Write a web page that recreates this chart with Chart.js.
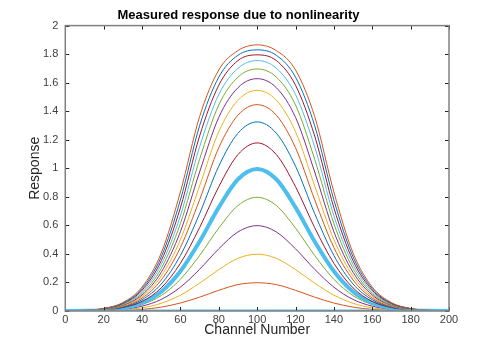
<!DOCTYPE html>
<html>
<head>
<meta charset="utf-8">
<script src="https://cdn.jsdelivr.net/npm/chart.js@4/dist/chart.umd.min.js"></script>
<style>
  html, body { margin: 0; padding: 0; background: #fff; }
  #wrap { width: 496px; height: 350px; }
</style>
</head>
<body>
<div id="wrap"><canvas id="respChart" width="496" height="350"></canvas></div>
<script>
const channels = [0, 10, 20, 30, 40, 50, 60, 70, 80, 90, 100, 110, 120, 130, 140, 150, 160, 170, 180, 190, 200];

const resp00 = [0, 0, 0, 0, 0, 0, 0, 0, 0, 0, 0, 0, 0, 0, 0, 0, 0, 0, 0, 0, 0];
const resp02 = [0, 0, 0.001, 0.004, 0.011, 0.027, 0.056, 0.097, 0.145, 0.185, 0.198, 0.185, 0.145, 0.097, 0.056, 0.027, 0.011, 0.004, 0.001, 0, 0];
const resp04 = [0, 0.001, 0.002, 0.008, 0.022, 0.054, 0.111, 0.195, 0.290, 0.369, 0.398, 0.369, 0.290, 0.195, 0.111, 0.054, 0.022, 0.008, 0.002, 0.001, 0];
const resp06 = [0, 0.001, 0.004, 0.012, 0.034, 0.081, 0.167, 0.292, 0.436, 0.554, 0.598, 0.554, 0.436, 0.292, 0.167, 0.081, 0.034, 0.012, 0.004, 0.001, 0];
const resp08 = [0, 0.001, 0.005, 0.016, 0.045, 0.108, 0.222, 0.389, 0.581, 0.739, 0.797, 0.739, 0.581, 0.389, 0.222, 0.108, 0.045, 0.016, 0.005, 0.001, 0];
const resp10 = [0, 0.002, 0.006, 0.020, 0.056, 0.135, 0.278, 0.487, 0.726, 0.923, 0.995, 0.923, 0.726, 0.487, 0.278, 0.135, 0.056, 0.020, 0.006, 0.002, 0];
const resp12 = [0, 0.002, 0.007, 0.024, 0.067, 0.162, 0.334, 0.584, 0.871, 1.096, 1.178, 1.096, 0.871, 0.584, 0.334, 0.162, 0.067, 0.024, 0.007, 0.002, 0];
const resp14 = [0.001, 0.002, 0.008, 0.028, 0.079, 0.189, 0.389, 0.682, 1.015, 1.246, 1.325, 1.246, 1.015, 0.682, 0.389, 0.189, 0.079, 0.028, 0.008, 0.002, 0.001];
const resp16 = [0.001, 0.002, 0.010, 0.032, 0.090, 0.217, 0.445, 0.779, 1.144, 1.372, 1.446, 1.372, 1.144, 0.779, 0.445, 0.217, 0.090, 0.032, 0.010, 0.002, 0.001];
const resp18 = [0.001, 0.003, 0.011, 0.036, 0.101, 0.244, 0.500, 0.876, 1.257, 1.477, 1.546, 1.477, 1.257, 0.876, 0.500, 0.244, 0.101, 0.036, 0.011, 0.003, 0.001];
const resp20 = [0.001, 0.003, 0.012, 0.040, 0.112, 0.271, 0.556, 0.974, 1.357, 1.565, 1.628, 1.565, 1.357, 0.974, 0.556, 0.271, 0.112, 0.040, 0.012, 0.003, 0.001];
const resp22 = [0.001, 0.003, 0.013, 0.044, 0.123, 0.298, 0.612, 1.063, 1.444, 1.639, 1.696, 1.639, 1.444, 1.063, 0.612, 0.298, 0.123, 0.044, 0.013, 0.003, 0.001];
const resp24 = [0.001, 0.004, 0.014, 0.048, 0.135, 0.325, 0.667, 1.150, 1.517, 1.701, 1.755, 1.701, 1.517, 1.150, 0.667, 0.325, 0.135, 0.048, 0.014, 0.004, 0.001];
const resp26 = [0.001, 0.004, 0.016, 0.052, 0.146, 0.352, 0.723, 1.226, 1.582, 1.755, 1.795, 1.755, 1.582, 1.226, 0.723, 0.352, 0.146, 0.052, 0.016, 0.004, 0.001];
const resp28 = [0.001, 0.004, 0.017, 0.055, 0.157, 0.379, 0.778, 1.298, 1.639, 1.792, 1.830, 1.792, 1.639, 1.298, 0.778, 0.379, 0.157, 0.055, 0.017, 0.004, 0.001];
const resp30 = [0.001, 0.005, 0.018, 0.059, 0.168, 0.406, 0.834, 1.362, 1.689, 1.825, 1.865, 1.825, 1.689, 1.362, 0.834, 0.406, 0.168, 0.059, 0.018, 0.005, 0.001];

const seriesList = [resp00, resp02, resp04, resp06, resp08, resp10, resp12, resp14,
                    resp16, resp18, resp20, resp22, resp24, resp26, resp28, resp30];

// axis ticks
const xTicks = [0, 20, 40, 60, 80, 100, 120, 140, 160, 180, 200];
const yTicks = [0, 0.2, 0.4, 0.6, 0.8, 1, 1.2, 1.4, 1.6, 1.8, 2];

// MATLAB default colour order
const colorOrder = ['#0072BD', '#D95319', '#EDB120', '#7E2F8E', '#77AC30', '#4DBEEE', '#A2142F'];
const FONT = "'Liberation Sans', Arial, Helvetica, sans-serif";

const datasets = seriesList.map((vals, i) => {
    let color = colorOrder[i % colorOrder.length];
    let width = 1;
    if (i === 0) { color = '#4DBEEE'; width = 3; }   // zero line drawn thick
    if (i === 5) { width = 4; }                      // unit response highlighted
    return {
        label: 'resp' + i,
        data: vals.map((v, k) => ({ x: channels[k], y: v })),
        borderColor: color,
        borderWidth: width,
        pointRadius: 0,
        fill: false,
        cubicInterpolationMode: 'monotone',
        order: i === 0 ? -1 : 20 - i
    };
});

// box around the plot with MATLAB style inward ticks
const boxTicks = {
    id: 'boxTicks',
    afterDraw(chart) {
        const { ctx, chartArea: a, scales } = chart;
        ctx.save();
        ctx.strokeStyle = '#262626';
        ctx.lineWidth = 1;
        const len = 4;
        ctx.beginPath();
        xTicks.forEach(v => {
            const px = Math.round(scales.x.getPixelForValue(v)) + 0.5;
            ctx.moveTo(px, a.bottom); ctx.lineTo(px, a.bottom - len);
            ctx.moveTo(px, a.top); ctx.lineTo(px, a.top + len);
        });
        yTicks.forEach(v => {
            const py = Math.round(scales.y.getPixelForValue(v)) + 0.5;
            ctx.moveTo(a.left, py); ctx.lineTo(a.left + len, py);
            ctx.moveTo(a.right, py); ctx.lineTo(a.right - len, py);
        });
        ctx.stroke();
        ctx.strokeStyle = '#808080';
        ctx.lineWidth = 1.5;
        ctx.strokeRect(a.left, a.top, a.right - a.left, a.bottom - a.top);
        ctx.restore();
    }
};

const tickLabel = (v) => String(Number(v.toFixed(1)));

const ctx = document.getElementById('respChart').getContext('2d');
const respChart = new Chart(ctx, {
    type: 'line',
    data: { datasets: datasets },
    plugins: [boxTicks],
    options: {
        responsive: false,
        animation: false,
        layout: { padding: { left: 28, right: 47, top: 0, bottom: 13 } },
        plugins: {
            legend: { display: false },
            tooltip: { enabled: false },
            title: {
                display: true,
                text: 'Measured response due to nonlinearity',
                color: '#000',
                font: { family: FONT, size: 13, weight: 'bold', lineHeight: 1.2 },
                padding: { top: 8, bottom: 2 }
            }
        },
        scales: {
            x: {
                type: 'linear',
                min: 0,
                max: 200,
                afterBuildTicks: (s) => { s.ticks = xTicks.map(v => ({ value: v })); },
                grid: { display: false, drawTicks: false },
                border: { display: false },
                ticks: { color: '#404040', font: { family: FONT, size: 11, lineHeight: 1 }, padding: 3,
                         maxRotation: 0, callback: tickLabel },
                title: { display: true, text: 'Channel Number', color: '#262626',
                         font: { family: FONT, size: 14, lineHeight: 1 }, padding: { top: -5, bottom: 0 } }
            },
            y: {
                min: 0,
                max: 2,
                afterBuildTicks: (s) => { s.ticks = yTicks.map(v => ({ value: v })); },
                grid: { display: false, drawTicks: false },
                border: { display: false },
                ticks: { color: '#404040', font: { family: FONT, size: 11, lineHeight: 1 }, padding: 7,
                         callback: tickLabel },
                title: { display: true, text: 'Response', color: '#262626',
                         font: { family: FONT, size: 14, lineHeight: 1 }, padding: { top: 0, bottom: -6 } }
            }
        }
    }
});
</script>
</body>
</html>
